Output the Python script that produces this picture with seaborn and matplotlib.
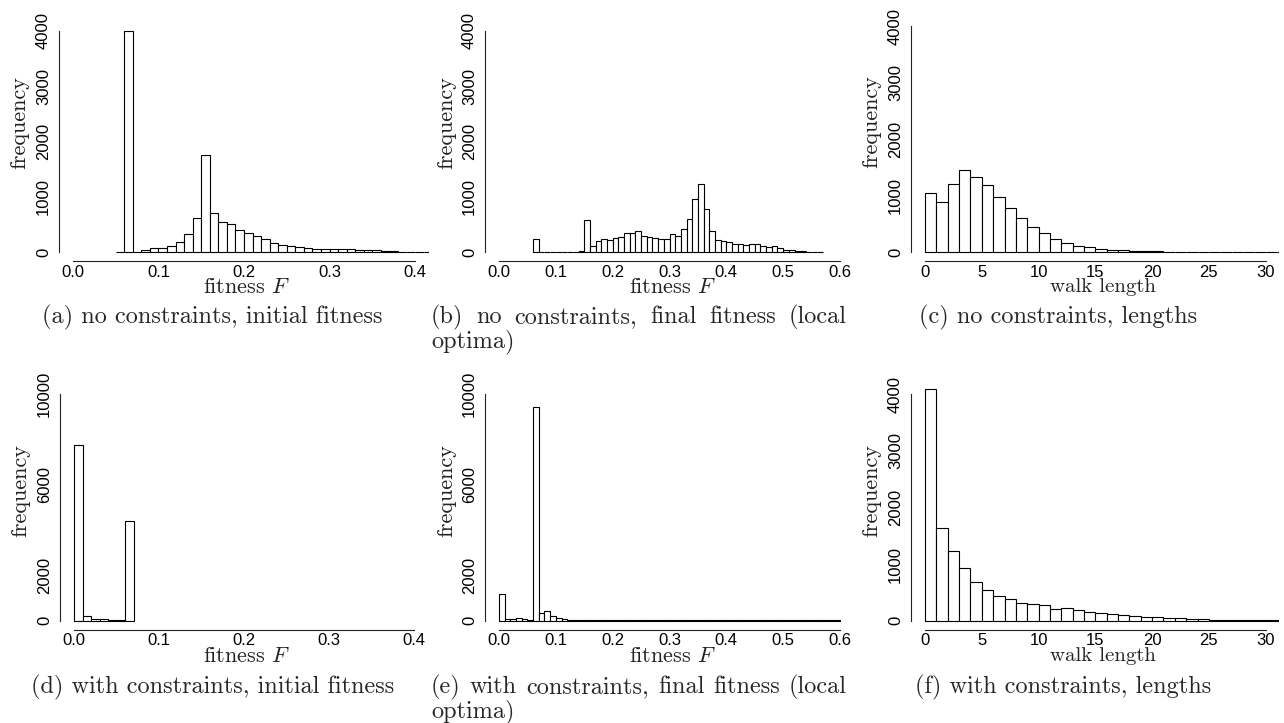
import numpy as np
import pandas as pd
import matplotlib
matplotlib.use("Agg")
import matplotlib.pyplot as plt
import seaborn as sns

# ---------------- data (bin counts) ----------------
# (a) no constraints, initial fitness: bins of width 0.01 starting at 0.05
a_start = 0.05
a_counts = [5, 4000, 10, 30, 70, 80, 120, 180, 320, 610, 1760, 700, 540, 510, 400,
            350, 290, 230, 160, 130, 110, 90, 75, 65, 60, 60, 60, 55, 45, 35, 35,
            20, 15, 10, 8, 5, 5, 4, 3]
# (b) no constraints, final fitness: bins of width 0.01 starting at 0.06
b_start = 0.06
b_counts = [230, 5, 5, 5, 8, 5, 8, 10, 15, 580, 120, 200, 240, 220, 250, 280, 340,
            340, 375, 300, 270, 260, 240, 230, 320, 300, 420, 600, 960, 1225, 780,
            375, 225, 195, 175, 150, 150, 130, 150, 150, 120, 100, 110, 70, 40, 30,
            20, 15, 10, 8, 5]
# (c) no constraints, walk lengths: bins of width 1 starting at 0
c_start = 0
c_counts = [1040, 890, 1200, 1460, 1330, 1190, 980, 770, 610, 450, 340, 230, 160,
            110, 80, 60, 40, 30, 22, 12, 10, 8, 6, 5, 4, 3, 3, 2, 2, 2, 1, 1, 1, 1]
# (d) with constraints, initial fitness: bins of width 0.01 starting at 0
d_start = 0.0
d_counts = [7780, 205, 70, 60, 30, 12, 4400]
# (e) with constraints, final fitness: bins of width 0.01 starting at 0
e_start = 0.0
e_counts = [1180, 60, 90, 120, 90, 30, 9450, 360, 420, 220, 105, 60, 45, 35, 30, 28,
            25, 22, 20, 20, 18, 18, 18, 17, 17, 17, 16, 16, 16, 16, 15, 15, 15, 15,
            15, 15, 14, 14, 14, 14, 14, 13, 13, 13, 13, 13, 12, 12, 12, 12, 12, 12,
            11, 11, 11, 10, 10, 10, 10, 10]
# (f) with constraints, walk lengths: bins of width 1 starting at 0
f_start = 0
f_counts = [4100, 1630, 1230, 930, 690, 540, 440, 390, 310, 300, 270, 210, 220, 180,
            150, 140, 120, 100, 80, 60, 60, 40, 40, 35, 30, 20, 18, 15, 15, 10, 8, 5,
            4, 3]

fit_ticks_4 = [0.0, 0.1, 0.2, 0.3, 0.4]
fit_ticks_6 = [0.0, 0.1, 0.2, 0.3, 0.4, 0.5, 0.6]
len_ticks = [0, 5, 10, 15, 20, 25, 30]
captions = ["(a) no constraints, initial fitness",
            "(b) no constraints, final fitness (local",
            "optima)",
            "(c) no constraints, lengths",
            "(d) with constraints, initial fitness",
            "(e) with constraints, final fitness (local",
            "optima)",
            "(f) with constraints, lengths"]

# ---------------- style ----------------
sns.set_theme(style="white")
plt.rcParams["font.family"] = ["Liberation Sans", "DejaVu Sans"]
plt.rcParams["mathtext.fontset"] = "cm"
SERIF = "cmr10"

W, H = 1284, 723
fig = plt.figure(figsize=(W / 100, H / 100), dpi=100)


def add_ax(left, right, top, bottom):
    return fig.add_axes([left / W, 1 - bottom / H, (right - left) / W, (bottom - top) / H])


def panel(ax, start, width, counts, xticks, xfmt, yticks, ylabels_shown):
    n = len(counts)
    edges = [round(start + width * i, 6) for i in range(n + 1)]
    df = pd.DataFrame({"x": [(edges[i] + edges[i + 1]) / 2 for i in range(n)],
                       "w": counts})
    sns.histplot(data=df, x="x", weights="w", bins=edges, ax=ax, color="white",
                 edgecolor="black", linewidth=0.8, alpha=1.0)
    x0, x1 = xticks[0], xticks[-1]
    dx = 0.04 * (x1 - x0)
    ax.set_xlim(x0 - dx, x1 + dx)
    y1 = yticks[-1]
    ax.set_ylim(-0.04 * y1, 1.04 * y1)
    ax.set_xticks(xticks)
    ax.set_xticklabels([xfmt(t) for t in xticks])
    ax.set_yticks(yticks)
    ax.set_yticklabels([str(t) if t in ylabels_shown else "" for t in yticks])
    for s in ["top", "right"]:
        ax.spines[s].set_visible(False)
    for s in ["left", "bottom"]:
        ax.spines[s].set_color("#222222")
        ax.spines[s].set_linewidth(0.8)
    ax.spines["left"].set_bounds(yticks[0], yticks[-1])
    ax.spines["bottom"].set_bounds(x0, x1)
    ax.tick_params(axis="both", direction="out", length=2.5, width=0.8, color="#222222",
                   labelsize=12, labelcolor="black")
    ax.tick_params(axis="x", pad=0.2)
    ax.tick_params(axis="y", pad=3.5)
    for lab in ax.get_yticklabels():
        lab.set_rotation(90)
        lab.set_va("center")
    ax.set_xlabel("")
    ax.set_ylabel("")
    ax.patch.set_alpha(0)


fmt1 = lambda t: f"{t:.1f}"
fmt0 = lambda t: f"{t:d}"
yt4 = [0, 1000, 2000, 3000, 4000]
yt10 = [0, 2000, 4000, 6000, 8000, 10000]

axa = add_ax(59.3, 428.7, 22, 261)
panel(axa, a_start, 0.01, a_counts, fit_ticks_4, fmt1, yt4, yt4)
axb = add_ax(485.4, 853.6, 22, 261)
panel(axb, b_start, 0.01, b_counts, fit_ticks_6, fmt1, yt4, yt4)
axc = add_ax(911.4, 1279.3, 17, 261)
panel(axc, c_start, 1, c_counts, len_ticks, fmt0, yt4, yt4)
axd = add_ax(60.4, 427.6, 385.3, 629.7)
panel(axd, d_start, 0.01, d_counts, fit_ticks_4, fmt1, yt10, [0, 2000, 6000, 10000])
axe = add_ax(485.4, 853.6, 385.3, 629.7)
panel(axe, e_start, 0.01, e_counts, fit_ticks_6, fmt1, yt10, [0, 2000, 6000, 10000])
axf = add_ax(911.4, 1279.3, 385.3, 629.7)
panel(axf, f_start, 1, f_counts, len_ticks, fmt0, yt4, yt4)


def ftext(x, y, s, **kw):
    return fig.text(x / W, 1 - y / H, s, **kw)


LBL = 16
for x, y in [(19, 123), (446, 123), (871, 122), (20, 491), (446, 491), (871, 491)]:
    ftext(x, y, "frequency", rotation=90, ha="center", va="center",
          fontsize=LBL, family=SERIF, color="#222222")
for x, y, s, fs in [(247, 293, r"fitness $F$", 16), (673, 293, r"fitness $F$", 16),
                    (1103, 292, "walk length", 15), (247, 662, r"fitness $F$", 16),
                    (673, 662, r"fitness $F$", 16), (1103, 661, "walk length", 15)]:
    ftext(x, y, s, ha="center", va="baseline", fontsize=fs, family=SERIF,
          color="#222222")

CAP = 17.5
renderer = fig.canvas.get_renderer()


def justified(x0, x1, y, line):
    words = line.split(" ")
    objs = [ftext(x0, y, w, ha="left", va="baseline", fontsize=CAP, family=SERIF)
            for w in words]
    widths = [o.get_window_extent(renderer).width for o in objs]
    gap = (x1 - x0 - sum(widths)) / (len(words) - 1)
    x = x0
    for o, w in zip(objs, widths):
        o.set_x(x / W)
        x += w + gap


ftext(212.5, 323, captions[0], ha="center", va="baseline", fontsize=CAP, family=SERIF)
justified(431, 847, 323, captions[1])
ftext(431, 347, captions[2], ha="left", va="baseline", fontsize=CAP, family=SERIF)
ftext(1058, 323, captions[3], ha="center", va="baseline", fontsize=CAP, family=SERIF)
ftext(212.5, 693, captions[4], ha="center", va="baseline", fontsize=CAP, family=SERIF)
justified(431, 847, 693, captions[5])
ftext(431, 717, captions[6], ha="left", va="baseline", fontsize=CAP, family=SERIF)
ftext(1063, 693, captions[7], ha="center", va="baseline", fontsize=CAP, family=SERIF)

fig.savefig("out.png", dpi=100)
